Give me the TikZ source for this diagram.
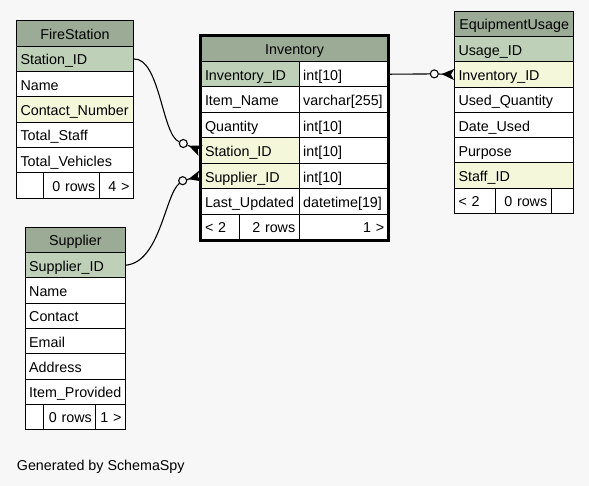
\documentclass[tikz,border=0pt]{standalone}
\usepackage{fontspec}
\setmainfont{Liberation Sans}
\usetikzlibrary{arrows.meta}
\definecolor{bgcol}{HTML}{F7F7F7}
\definecolor{headcol}{HTML}{9BAB96}
\definecolor{pkcol}{HTML}{BED1B8}
\definecolor{fkcol}{HTML}{F4F7DA}
\newcommand{\cellfont}{\fontsize{14.3}{17}\selectfont}
\tikzset{
  cell/.style={draw, line width=1pt, fill=white, anchor=north west, inner xsep=4pt, inner ysep=0pt,
    minimum height=25.3pt, text height=13pt, text depth=1pt, text width=#1, align=left, font=\cellfont},
  head/.style={fill=headcol, align=center},
  pk/.style={fill=pkcol},
  fk/.style={fill=fkcol},
  rt/.style={align=right},
  tall/.style={minimum height=25.45pt},
  odot/.style={circle, draw, line width=1.1pt, fill=bgcol, inner sep=0pt, minimum size=8pt},
  crow/.style={line width=1.1pt, -{Stealth[reversed, length=12.5pt, width=11pt, inset=3pt]}},
  link/.style={line width=1.1pt}
}
\begin{document}
\begin{tikzpicture}[x=1pt,y=-1pt]
                \fill[bgcol] (0,0) rectangle (589,486);
                % FireStation
                \node[cell=109pt, head] (FS) at (16,20.5) {FireStation};
                \node[cell=109pt, pk] (FSStationID) at (16,45.8) {Station\_ID};
                \node[cell=109pt] (FSName) at (16,71.1) {Name};
                \node[cell=109pt, fk] (FSContact) at (16,96.4) {Contact\_Number};
                \node[cell=109pt] (FSStaff) at (16,121.7) {Total\_Staff};
                \node[cell=109pt] (FSVehicles) at (16,147) {Total\_Vehicles};
                \node[cell=18.7pt] (FSFootA) at (16,172.3) {};
                \node[cell=48pt, rt] (FSFootB) at (42.7,172.3) {0 rows};
                \node[cell=26.3pt, rt] (FSFootC) at (98.7,172.3) {4 >};
                % Supplier
                \node[cell=92.3pt, head] (SP) at (24.7,226.7) {Supplier};
                \node[cell=92.3pt, pk] (SPSupplierID) at (24.7,252) {Supplier\_ID};
                \node[cell=92.3pt] (SPName) at (24.7,277.3) {Name};
                \node[cell=92.3pt] (SPContact) at (24.7,302.6) {Contact};
                \node[cell=92.3pt] (SPEmail) at (24.7,327.9) {Email};
                \node[cell=92.3pt] (SPAddress) at (24.7,353.2) {Address};
                \node[cell=92.3pt] (SPItem) at (24.7,378.5) {Item\_Provided};
                \node[cell=10.6pt] (SPFootA) at (24.7,403.8) {};
                \node[cell=44pt, rt] (SPFootB) at (43.3,403.8) {0 rows};
                \node[cell=21.7pt, rt] (SPFootC) at (95.3,403.8) {1 >};
                % EquipmentUsage
                \node[cell=111.3pt, head] (EU) at (454,10.7) {EquipmentUsage};
                \node[cell=111.3pt, pk] (EUUsageID) at (454,36) {Usage\_ID};
                \node[cell=111.3pt, fk] (EUInventoryID) at (454,61.3) {Inventory\_ID};
                \node[cell=111.3pt] (EUQuantity) at (454,86.6) {Used\_Quantity};
                \node[cell=111.3pt] (EUDate) at (454,111.9) {Date\_Used};
                \node[cell=111.3pt] (EUPurpose) at (454,137.2) {Purpose};
                \node[cell=111.3pt, fk] (EUStaffID) at (454,162.5) {Staff\_ID};
                \node[cell=32.7pt] (EUFootA) at (454,187.8) {< 2};
                \node[cell=48pt, rt] (EUFootB) at (494.7,187.8) {0 rows};
                \node[cell=14.6pt] (EUFootC) at (550.7,187.8) {};
                % Inventory
                \node[cell=179.3pt, tall, head] (INV) at (200.5,35.5) {Inventory};
                \node[cell=90.2pt, tall, pk] (INVId) at (200.5,61) {Inventory\_ID};
                \node[cell=81.1pt, tall] (INVIdType) at (298.7,61) {int[10]};
                \node[cell=90.2pt, tall] (INVItem) at (200.5,86.45) {Item\_Name};
                \node[cell=81.1pt, tall] (INVItemType) at (298.7,86.45) {varchar[255]};
                \node[cell=90.2pt, tall] (INVQuantity) at (200.5,111.9) {Quantity};
                \node[cell=81.1pt, tall] (INVQuantityType) at (298.7,111.9) {int[10]};
                \node[cell=90.2pt, tall, fk] (INVStation) at (200.5,137.35) {Station\_ID};
                \node[cell=81.1pt, tall] (INVStationType) at (298.7,137.35) {int[10]};
                \node[cell=90.2pt, tall, fk] (INVSupplier) at (200.5,162.8) {Supplier\_ID};
                \node[cell=81.1pt, tall] (INVSupplierType) at (298.7,162.8) {int[10]};
                \node[cell=90.2pt, tall] (INVUpdated) at (200.5,188.25) {Last\_Updated};
                \node[cell=81.1pt, tall] (INVUpdatedType) at (298.7,188.25) {datetime[19]};
                \node[cell=30.2pt, tall] (INVFootA) at (200.5,213.7) {< 2};
                \node[cell=52pt, tall, rt] (INVFootB) at (238.7,213.7) {2 rows};
                \node[cell=81.1pt, tall, rt] (INVFootC) at (298.7,213.7) {1 >};
                \draw[line width=3pt] (INV.north west) rectangle (INVFootC.south east);
                % relations
                \node[odot] (FK1) at (183.3,143.5) {};
                \node[odot] (FK2) at (182.7,180.7) {};
                \node[odot] (FK3) at (434.3,73.9) {};
                \draw[link] (FSStationID.east) .. controls (160,58.4) and (162,135) .. (FK1);
                \draw[crow] (FK1) -- (INVStation.west);
                \draw[link] (SPSupplierID.east) .. controls (160,262) and (165,195) .. (FK2);
                \draw[crow] (FK2) -- (INVSupplier.west);
                \draw[link] (INVIdType.east) -- (FK3);
                \draw[crow] (FK3) -- (EUInventoryID.west);
                \node[anchor=base west, inner sep=0pt, font=\cellfont] (GEN) at (16.7,470.5) {Generated by SchemaSpy};
            \end{tikzpicture}
\end{document}
